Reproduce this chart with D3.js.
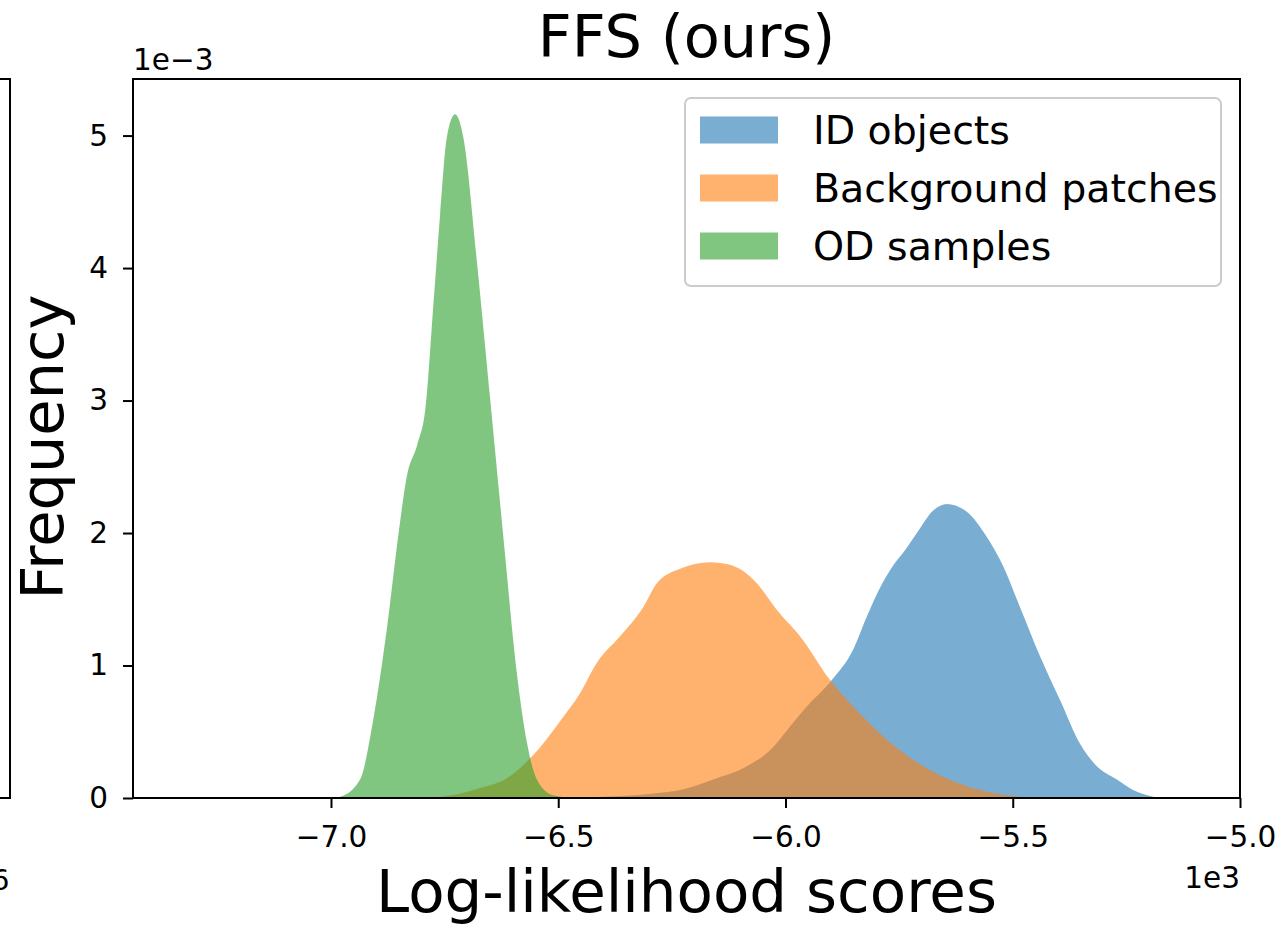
<!DOCTYPE html>
<html>
<head>
<meta charset="utf-8">
<script src="https://cdn.jsdelivr.net/npm/d3@7"></script>
<style>
  html, body { margin: 0; padding: 0; background: #fff; }
  svg { display: block; }
  text { font-family: "DejaVu Sans", sans-serif; fill: #000; }
</style>
</head>
<body>
<svg id="chart" width="1286" height="926"></svg>
<script>
// ---- Data (x in units of 1e3, density in units of 1e-3) ----
const seriesNames = ["ID objects", "Background patches", "OD samples"];
const seriesColors = ["#1f77b4", "#ff7f0e", "#2ca02c"];

const idX = [-6.50, -6.40, -6.30, -6.22, -6.159, -6.085, -6.034, -5.997, -5.953, -5.898, -5.851, -5.821, -5.790, -5.760, -5.735, -5.711, -5.675, -5.645, -5.601, -5.557, -5.521, -5.484, -5.440, -5.396, -5.352, -5.315, -5.271, -5.235, -5.191, -5.17];
const idY = [0.0, 0.01, 0.03, 0.07, 0.14, 0.24, 0.36, 0.51, 0.69, 0.89, 1.12, 1.37, 1.60, 1.77, 1.88, 2.00, 2.17, 2.22, 2.16, 1.97, 1.75, 1.44, 1.07, 0.74, 0.41, 0.24, 0.14, 0.06, 0.01, 0.0];

const bgX = [-6.78, -6.72, -6.672, -6.613, -6.556, -6.496, -6.452, -6.415, -6.364, -6.313, -6.283, -6.232, -6.166, -6.122, -6.071, -6.012, -5.968, -5.902, -5.843, -5.777, -5.682, -5.572, -5.50, -5.44];
const bgY = [0.0, 0.03, 0.075, 0.15, 0.32, 0.58, 0.79, 1.02, 1.22, 1.44, 1.62, 1.73, 1.78, 1.76, 1.65, 1.39, 1.22, 0.89, 0.66, 0.44, 0.21, 0.06, 0.015, 0.0];

const odX = [-7.0, -6.98, -6.936, -6.907, -6.877, -6.852, -6.833, -6.810, -6.792, -6.775, -6.760, -6.745, -6.727, -6.709, -6.679, -6.650, -6.621, -6.591, -6.569, -6.547, -6.511, -6.47];
const odY = [0.0, 0.01, 0.14, 0.59, 1.28, 1.98, 2.43, 2.67, 2.95, 3.71, 4.40, 4.99, 5.16, 4.99, 4.05, 3.02, 1.98, 0.94, 0.42, 0.14, 0.02, 0.0];

const xTicks = [-7.0, -6.5, -6.0, -5.5, -5.0];
const yTicks = [0, 1, 2, 3, 4, 5];
const xDomain = [-7.4356, -5.0];
const yDomain = [0, 5.427];

const titleText = "FFS (ours)";
const xLabel = "Log-likelihood scores";
const yLabel = "Frequency";
const xOffsetText = "1e3";
const yOffsetText = "1e\u22123";

// ---- Layout ----
const L = 133, R = 1240, T = 79, B = 798;
const svg = d3.select("#chart");
svg.append("rect").attr("width", 1286).attr("height", 926).attr("fill", "#fff");

const x = d3.scaleLinear().domain(xDomain).range([L, R]);
const y = d3.scaleLinear().domain(yDomain).range([B, T]);

// partial neighbouring panel at the left edge
svg.append("path").attr("d", `M-2,${T}H10V${B}H-2`).attr("fill", "none")
  .attr("stroke", "#000").attr("stroke-width", 2);
svg.append("text").attr("x", 9.5).attr("y", 890).attr("text-anchor", "end")
  .style("font-size", "29px").text("6");

svg.append("defs").append("clipPath").attr("id", "clip")
  .append("rect").attr("x", L).attr("y", T).attr("width", R - L).attr("height", B - T);

const series = [
  { name: seriesNames[0], color: seriesColors[0], pts: idX.map((v, i) => [v, idY[i]]) },
  { name: seriesNames[1], color: seriesColors[1], pts: bgX.map((v, i) => [v, bgY[i]]) },
  { name: seriesNames[2], color: seriesColors[2], pts: odX.map((v, i) => [v, odY[i]]) }
];

const area = d3.area()
  .x(d => x(d[0]))
  .y0(y(0))
  .y1(d => y(d[1]))
  .curve(d3.curveMonotoneX);

const g = svg.append("g").attr("clip-path", "url(#clip)");
g.selectAll("path.area").data(series).enter().append("path")
  .attr("class", "area")
  .attr("d", d => area(d.pts))
  .attr("fill", d => d.color)
  .attr("fill-opacity", 0.6);

// ---- Axes ----
const fmt = d => d.toFixed(1).replace("-", "\u2212");
const xAxis = svg.append("g").attr("transform", `translate(0,${B})`)
  .call(d3.axisBottom(x).tickValues(xTicks).tickFormat(fmt).tickSize(10).tickPadding(18));
const yAxis = svg.append("g").attr("transform", `translate(${L},0)`)
  .call(d3.axisLeft(y).tickValues(yTicks).tickFormat(d3.format("d")).tickSize(10).tickPadding(15));
[xAxis, yAxis].forEach(a => {
  a.select(".domain").remove();
  a.selectAll(".tick line").attr("stroke", "#000").attr("stroke-width", 2);
  a.selectAll(".tick text").style("font-size", "29.5px").style("font-family", "DejaVu Sans, sans-serif").attr("fill", "#000");
});

// spines
svg.append("rect").attr("x", L).attr("y", T).attr("width", R - L).attr("height", B - T)
  .attr("fill", "none").attr("stroke", "#000").attr("stroke-width", 2);

// offset texts
svg.append("text").attr("x", L).attr("y", 70).style("font-size", "29.5px").text(yOffsetText);
svg.append("text").attr("x", R).attr("y", 888).attr("text-anchor", "end").style("font-size", "29.5px").text(xOffsetText);

// title and labels
svg.append("text").attr("x", (L + R) / 2).attr("y", 57).attr("text-anchor", "middle")
  .style("font-size", "59px").text(titleText);
svg.append("text").attr("x", (L + R) / 2).attr("y", 912).attr("text-anchor", "middle")
  .style("font-size", "59.5px").text(xLabel);
svg.append("text").attr("transform", "translate(63,447) rotate(-90)").attr("text-anchor", "middle")
  .style("font-size", "59px").text(yLabel);

// ---- Legend ----
const lg = svg.append("g");
lg.append("rect").attr("x", 685).attr("y", 98).attr("width", 536).attr("height", 188)
  .attr("rx", 6).attr("fill", "#fff").attr("fill-opacity", 0.8)
  .attr("stroke", "#cccccc").attr("stroke-width", 2);
const rowY = d3.scalePoint().domain(seriesNames).range([130, 246]);
series.forEach(s => {
  lg.append("rect").attr("x", 700).attr("y", rowY(s.name) - 13.5).attr("width", 78).attr("height", 27)
    .attr("fill", s.color).attr("fill-opacity", 0.6);
  lg.append("text").attr("x", 813).attr("y", rowY(s.name) + 14).style("font-size", "39.5px").text(s.name);
});
</script>
</body>
</html>
